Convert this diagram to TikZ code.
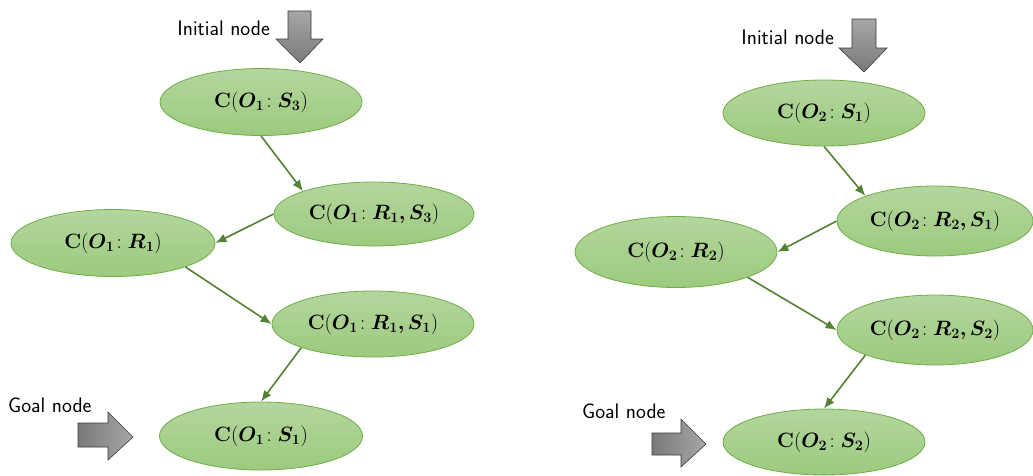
\documentclass[tikz,border=0pt]{standalone}
\usepackage{amsmath}
\usepackage{bm}
\usetikzlibrary{shapes.geometric,arrows.meta}

\definecolor{stateTop}{HTML}{B3D69E}
\definecolor{stateBot}{HTML}{9CCA7E}
\definecolor{stateEdge}{HTML}{70AD47}
\definecolor{linkCol}{HTML}{548235}
\definecolor{blockLight}{HTML}{A6A6A6}
\definecolor{blockDark}{HTML}{7A7A7A}
\definecolor{blockEdge}{HTML}{3A3A3A}

% bold cost term C(O_i : ...)
\newcommand{\cst}[2]{$\mathbf{C}(\bm{O}_{\mathbf{#1}}\!:\bm{#2})$}

\tikzset{
  state/.style={ellipse, draw=stateEdge, line width=0.8pt,
    top color=stateTop, bottom color=stateBot, inner sep=0pt,
    font=\fontsize{20.5}{24}\selectfont},
  link/.style={draw=linkCol, line width=1.6pt, -{Latex[length=11pt,width=9pt]}},
  block/.style={draw=blockEdge, line width=0.6pt, left color=blockDark, right color=blockLight},
  caption/.style={font=\sffamily\fontsize{21}{24}\selectfont, inner sep=0pt}
}

\begin{document}
\begin{tikzpicture}[x=1pt,y=-1pt]
\useasboundingbox (0,0) rectangle (1033,475);

% ---------- left search tree ----------
\node[state, minimum width=202pt, minimum height=67pt] (a1) at (261,102) {\cst{1}{S_{\mathbf 3}}};
\node[state, minimum width=200pt, minimum height=64pt] (b1) at (374,214) {\cst{1}{R_{\mathbf 1}, S_{\mathbf 3}}};
\node[state, minimum width=204pt, minimum height=67pt] (c1) at (113,243) {\cst{1}{R_{\mathbf 1}}};
\node[state, minimum width=202pt, minimum height=66pt] (d1) at (373,324) {\cst{1}{R_{\mathbf 1}, S_{\mathbf 1}}};
\node[state, minimum width=203pt, minimum height=68pt] (e1) at (261,436) {\cst{1}{S_{\mathbf 1}}};

\draw[link] (a1.south) -- (b1.north west);
\draw[link] (b1.west) -- (c1.east);
\draw[link] (c1.south east) -- (d1.west);
\draw[link] (d1.south west) -- (e1.north);

% ---------- right search tree ----------
\node[state, minimum width=202pt, minimum height=66pt] (a2) at (824,113) {\cst{2}{S_{\mathbf 1}}};
\node[state, minimum width=196pt, minimum height=70pt] (b2) at (935,221) {\cst{2}{R_{\mathbf 2}, S_{\mathbf 1}}};
\node[state, minimum width=202pt, minimum height=71pt] (c2) at (676,252) {\cst{2}{R_{\mathbf 2}}};
\node[state, minimum width=196pt, minimum height=70pt] (d2) at (935,330) {\cst{2}{R_{\mathbf 2}, S_{\mathbf 2}}};
\node[state, minimum width=202pt, minimum height=66pt] (e2) at (824,442) {\cst{2}{S_{\mathbf 2}}};

\draw[link] (a2.south) -- (b2.north west);
\draw[link] (b2.west) -- (c2.east);
\draw[link] (c2.south east) -- (d2.west);
\draw[link] (d2.south west) -- (e2.north);

% ---------- block arrows and captions ----------
\draw[block, top color=blockLight, bottom color=blockDark]
  (288,11) -- (311,11) -- (311,39) -- (323,39) -- (300,63) -- (276,39) -- (288,39) -- cycle;
\node[caption, anchor=base east] (init1) at (270,35) {Initial node};

\draw[block, top color=blockLight, bottom color=blockDark]
  (852,19) -- (876,19) -- (876,48) -- (887,48) -- (864,72) -- (839,48) -- (852,48) -- cycle;
\node[caption, anchor=base east] (init2) at (834,44) {Initial node};

\draw[block]
  (78,423) -- (108,423) -- (108,412) -- (133,437) -- (108,460) -- (108,447) -- (78,447) -- cycle;
\node[caption, anchor=base west] (goal1) at (8,412) {Goal node};

\draw[block]
  (652,433) -- (681,433) -- (681,419) -- (706,444) -- (681,467) -- (681,455) -- (652,455) -- cycle;
\node[caption, anchor=base west] (goal2) at (582,418) {Goal node};
\end{tikzpicture}
\end{document}
